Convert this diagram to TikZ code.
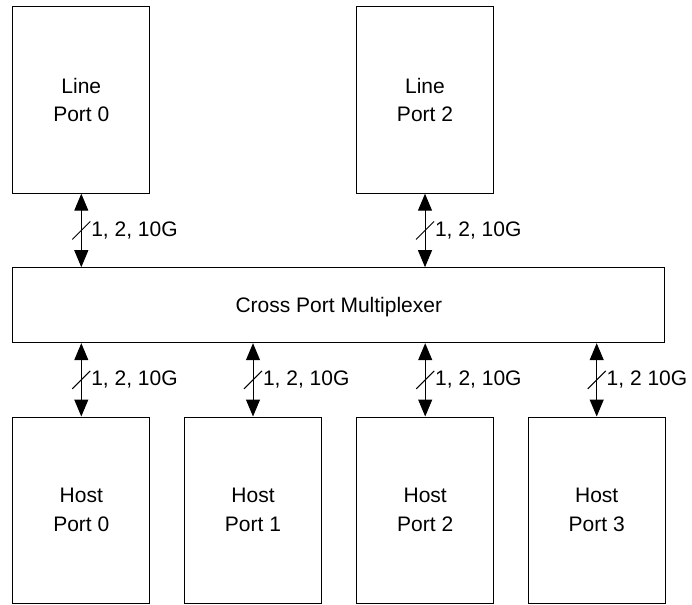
\documentclass[tikz,border=0pt]{standalone}
\usepackage{fontspec}
\setmainfont{Liberation Sans}
\usetikzlibrary{arrows.meta}
\begin{document}
\begin{tikzpicture}[x=1pt,y=-1pt,
    port/.style={draw,line width=1pt,minimum width=137pt,minimum height=187pt,inner sep=0pt,align=center,font=\fontsize{21}{28.4}\selectfont},
    bus/.style={arrows={Triangle[length=17pt,width=14pt]-Triangle[length=17pt,width=14pt]},line width=1pt},
    lc/.style={right,inner sep=0pt,xshift=9.5pt,font=\fontsize{21}{25}\selectfont}]
    \useasboundingbox (0,0) rectangle (692,604);
    \node[port] (line0) at (81.3,99.7) {Line\\Port 0};
    \node[port] (line2) at (425,99.7) {Line\\Port 2};
    \node[port,minimum width=652pt,minimum height=75pt,text depth=0pt] (mux) at (338.8,305.2) {Cross Port Multiplexer};
    \foreach[count=\i from 0] \x in {81.3,253,425.2,596.7} {
        \node[port,minimum height=186pt] (host\i) at (\x,510) {Host\\Port \i};
    }
    % line side
    \foreach \n/\t in {line0/{1, 2, 10G},line2/{1, 2, 10G}} {
        \draw[bus] (\n.south) -- (\n.south |- mux.north) coordinate[midway] (s\n) node[lc,midway] {\t};
        \draw[line width=1pt] (s\n) ++(-9,9) -- ++(18,-18);
    }
    % host side
    \foreach \n/\t in {host0/{1, 2, 10G},host1/{1, 2, 10G},host2/{1, 2, 10G},host3/{1, 2 10G}} {
        \draw[bus] (mux.south -| \n.north) -- (\n.north) coordinate[midway] (s\n) node[lc,midway] {\t};
        \draw[line width=1pt] (s\n) ++(-9,9) -- ++(18,-18);
    }
\end{tikzpicture}
\end{document}
